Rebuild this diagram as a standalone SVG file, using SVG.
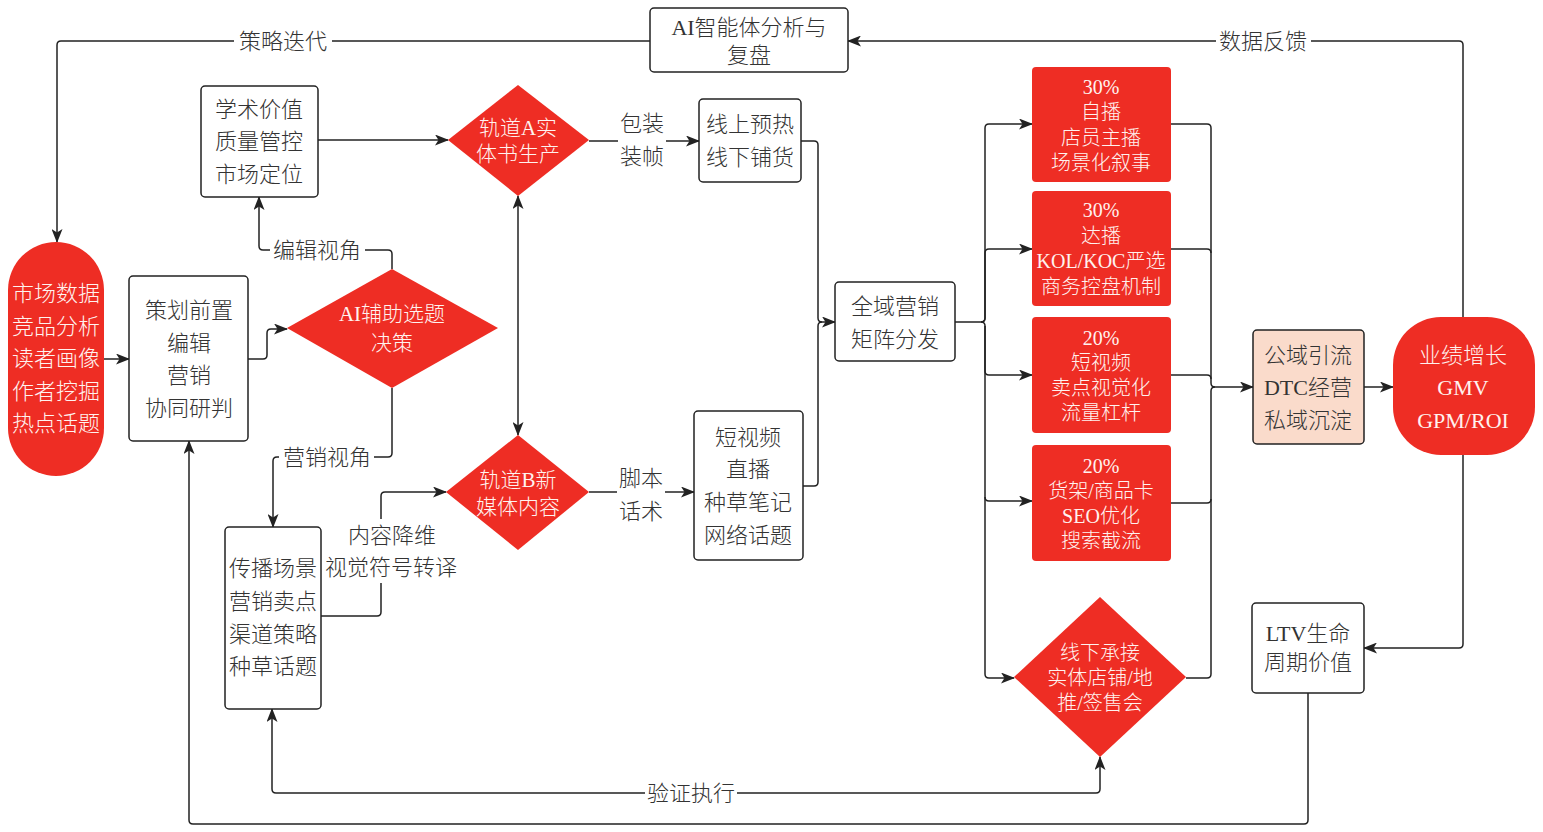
<svg xmlns="http://www.w3.org/2000/svg" width="1543" height="832" viewBox="0 0 1543 832">
<style>
.t{font-family:"Liberation Serif","Noto Sans CJK SC",serif;font-size:22px;fill:#333;text-anchor:middle;dominant-baseline:central;font-weight:300}
.w{fill:#FFF2EF;font-size:20px}
.d{font-size:21px}
.box{fill:#fff;stroke:#222;stroke-width:1.5}
.red{fill:#EE2D24}
.peach{fill:#FADBCB;stroke:#222;stroke-width:1.5}
.c{fill:none;stroke:#222;stroke-width:1.5}
.lb{fill:#fff}
</style>
<defs>
<marker id="a" viewBox="0 0 14 11" refX="13" refY="5.5" markerWidth="14" markerHeight="11" orient="auto-start-reverse" markerUnits="userSpaceOnUse">
<path d="M0,0 L14,5.5 L0,11 L3.5,5.5 Z" fill="#222"/>
</marker>
</defs>
<rect width="1543" height="832" fill="#fff"/>

<g id="connectors">
<path class="c" d="M104,359 H129" marker-end="url(#a)"/>
<path class="c" d="M248,359 H263 Q267,359 267,355 V333 Q267,329 271,329 H287" marker-end="url(#a)"/>
<path class="c" d="M392,269 V254 Q392,250 388,250 H263 Q259,250 259,246 V197" marker-end="url(#a)"/>
<path class="c" d="M392,388 V453 Q392,457 388,457 H277 Q273,457 273,461 V527" marker-end="url(#a)"/>
<path class="c" d="M318,140 H448" marker-end="url(#a)"/>
<path class="c" d="M518,196 V435" marker-start="url(#a)" marker-end="url(#a)"/>
<path class="c" d="M321,616 H377 Q381,616 381,612 V496 Q381,492 385,492 H446" marker-end="url(#a)"/>
<path class="c" d="M589,141 H699" marker-end="url(#a)"/>
<path class="c" d="M589,492 H694" marker-end="url(#a)"/>
<path class="c" d="M801,141 H814 Q818,141 818,145 V318 Q818,322 822,322"/>
<path class="c" d="M803,486 H814 Q818,486 818,482 V326 Q818,322 822,322 H835" marker-end="url(#a)"/>
<path class="c" d="M955,322 H981 Q985,322 985,318 V128 Q985,124 989,124 H1032" marker-end="url(#a)"/>
<path class="c" d="M981,322 Q985,322 985,318 V253 Q985,249 989,249 H1032" marker-end="url(#a)"/>
<path class="c" d="M981,322 Q985,322 985,326 V371 Q985,375 989,375 H1032" marker-end="url(#a)"/>
<path class="c" d="M985,326 V497 Q985,501 989,501 H1032" marker-end="url(#a)"/>
<path class="c" d="M985,497 V674 Q985,678 989,678 H1014" marker-end="url(#a)"/>
<path class="c" d="M1171,124 H1207 Q1211,124 1211,128 V383 Q1211,387 1215,387"/>
<path class="c" d="M1171,249 H1207 Q1211,249 1211,253"/>
<path class="c" d="M1171,375 H1207 Q1211,375 1211,379"/>
<path class="c" d="M1171,503 H1207 Q1211,503 1211,499"/>
<path class="c" d="M1186,678 H1207 Q1211,678 1211,674 V391 Q1211,387 1215,387 H1253" marker-end="url(#a)"/>
<path class="c" d="M1364,387 H1393" marker-end="url(#a)"/>
<path class="c" d="M1463,317 V45 Q1463,41 1459,41 H848" marker-end="url(#a)"/>
<path class="c" d="M1463,455 V644 Q1463,648 1459,648 H1364" marker-end="url(#a)"/>
<path class="c" d="M650,41 H61 Q57,41 57,45 V242" marker-end="url(#a)"/>
<path class="c" d="M1308,693 V820 Q1308,824 1304,824 H193 Q189,824 189,820 V441" marker-end="url(#a)"/>
<path class="c" d="M272,709 V789 Q272,793 276,793 H1096 Q1100,793 1100,789 V757" marker-start="url(#a)" marker-end="url(#a)"/>

<rect class="lb" x="234" y="28" width="98" height="26"/>
<text class="t" x="283" y="41">策略迭代</text>
<rect class="lb" x="1216" y="28" width="95" height="26"/>
<text class="t" x="1263" y="41">数据反馈</text>
<rect class="lb" x="270" y="237" width="95" height="26"/>
<text class="t" x="317" y="250">编辑视角</text>
<rect class="lb" x="279" y="444" width="95" height="26"/>
<text class="t" x="327" y="457">营销视角</text>
<rect class="lb" x="645" y="780" width="92" height="26"/>
<text class="t" x="691" y="793">验证执行</text>
<rect class="lb" x="618" y="106" width="48" height="66"/>
<text class="t" x="642" y="123">包装</text>
<text class="t" x="642" y="156">装帧</text>
<rect class="lb" x="617" y="461" width="48" height="66"/>
<text class="t" x="641" y="478">脚本</text>
<text class="t" x="641" y="511">话术</text>
<rect class="lb" x="324" y="519" width="136" height="64"/>
<text class="t" x="392" y="535">内容降维</text>
<text class="t" x="391" y="567">视觉符号转译</text>
</g>

<g id="n-market">
<rect class="red" x="8" y="242" width="96" height="234" rx="48"/>
<text class="t w" style="font-size:22px" x="56" y="293">市场数据</text>
<text class="t w" style="font-size:22px" x="56" y="326">竞品分析</text>
<text class="t w" style="font-size:22px" x="56" y="358">读者画像</text>
<text class="t w" style="font-size:22px" x="56" y="391">作者挖掘</text>
<text class="t w" style="font-size:22px" x="56" y="423">热点话题</text>
</g>

<g id="n-plan">
<rect class="box" x="129" y="276" width="119" height="165" rx="4"/>
<text class="t" x="189" y="310">策划前置</text>
<text class="t" x="189" y="343">编辑</text>
<text class="t" x="189" y="375">营销</text>
<text class="t" x="189" y="408">协同研判</text>
</g>

<g id="n-ai-decide">
<polygon class="red" points="287,328 392,269 498,328 392,388"/>
<text class="t w d" x="392" y="314">AI辅助选题</text>
<text class="t w d" x="392" y="343">决策</text>
</g>

<g id="n-academic">
<rect class="box" x="201" y="86" width="117" height="111" rx="4"/>
<text class="t" x="259" y="109">学术价值</text>
<text class="t" x="259" y="141">质量管控</text>
<text class="t" x="259" y="174">市场定位</text>
</g>

<g id="n-trackA">
<polygon class="red" points="448,140 518,85 589,140 518,196"/>
<text class="t w d" x="518" y="128">轨道A实</text>
<text class="t w d" x="518" y="154">体书生产</text>
</g>

<g id="n-trackB">
<polygon class="red" points="446,492 518,435 589,492 518,550"/>
<text class="t w d" x="518" y="480">轨道B新</text>
<text class="t w d" x="518" y="507">媒体内容</text>
</g>

<g id="n-preheat">
<rect class="box" x="699" y="99" width="102" height="83" rx="4"/>
<text class="t" x="750" y="124">线上预热</text>
<text class="t" x="750" y="157">线下铺货</text>
</g>

<g id="n-shortvideo">
<rect class="box" x="694" y="411" width="109" height="149" rx="4"/>
<text class="t" x="748" y="437">短视频</text>
<text class="t" x="748" y="469">直播</text>
<text class="t" x="748" y="502">种草笔记</text>
<text class="t" x="748" y="535">网络话题</text>
</g>

<g id="n-spread">
<rect class="box" x="225" y="527" width="96" height="182" rx="4"/>
<text class="t" x="273" y="568">传播场景</text>
<text class="t" x="273" y="601">营销卖点</text>
<text class="t" x="273" y="634">渠道策略</text>
<text class="t" x="273" y="666">种草话题</text>
</g>

<g id="n-ai-review">
<rect class="box" x="650" y="8" width="198" height="64" rx="4"/>
<text class="t" x="749" y="27">AI智能体分析与</text>
<text class="t" x="749" y="55">复盘</text>
</g>

<g id="n-omni">
<rect class="box" x="835" y="282" width="120" height="79" rx="4"/>
<text class="t" x="895" y="306">全域营销</text>
<text class="t" x="895" y="339">矩阵分发</text>
</g>

<g id="n-self">
<rect class="red" x="1032" y="67" width="139" height="115" rx="4"/>
<text class="t w" x="1101" y="87">30%</text>
<text class="t w" x="1101" y="112">自播</text>
<text class="t w" x="1101" y="138">店员主播</text>
<text class="t w" x="1101" y="163">场景化叙事</text>
</g>

<g id="n-kol">
<rect class="red" x="1032" y="191" width="139" height="115" rx="4"/>
<text class="t w" x="1101" y="210">30%</text>
<text class="t w" x="1101" y="236">达播</text>
<text class="t w" x="1101" y="261">KOL/KOC严选</text>
<text class="t w" x="1101" y="287">商务控盘机制</text>
</g>

<g id="n-video">
<rect class="red" x="1032" y="317" width="139" height="116" rx="4"/>
<text class="t w" x="1101" y="338">20%</text>
<text class="t w" x="1101" y="363">短视频</text>
<text class="t w" x="1101" y="388">卖点视觉化</text>
<text class="t w" x="1101" y="413">流量杠杆</text>
</g>

<g id="n-shelf">
<rect class="red" x="1032" y="445" width="139" height="116" rx="4"/>
<text class="t w" x="1101" y="466">20%</text>
<text class="t w" x="1101" y="491">货架/商品卡</text>
<text class="t w" x="1101" y="516">SEO优化</text>
<text class="t w" x="1101" y="541">搜索截流</text>
</g>

<g id="n-offline">
<polygon class="red" points="1014,677 1100,597 1186,677 1100,757"/>
<text class="t w" x="1100" y="653">线下承接</text>
<text class="t w" x="1100" y="678">实体店铺/地</text>
<text class="t w" x="1100" y="703">推/签售会</text>
</g>

<g id="n-dtc">
<rect class="peach" x="1253" y="330" width="111" height="114" rx="4"/>
<text class="t" x="1308" y="355">公域引流</text>
<text class="t" x="1308" y="387">DTC经营</text>
<text class="t" x="1308" y="420">私域沉淀</text>
</g>

<g id="n-growth">
<rect class="red" x="1393" y="317" width="142" height="138" rx="48"/>
<text class="t w" style="font-size:22px" x="1463" y="355">业绩增长</text>
<text class="t w" style="font-size:22px" x="1463" y="387">GMV</text>
<text class="t w" style="font-size:22px" x="1463" y="420">GPM/ROI</text>
</g>

<g id="n-ltv">
<rect class="box" x="1252" y="603" width="112" height="90" rx="4"/>
<text class="t" x="1308" y="633">LTV生命</text>
<text class="t" x="1308" y="662">周期价值</text>
</g>
</svg>
